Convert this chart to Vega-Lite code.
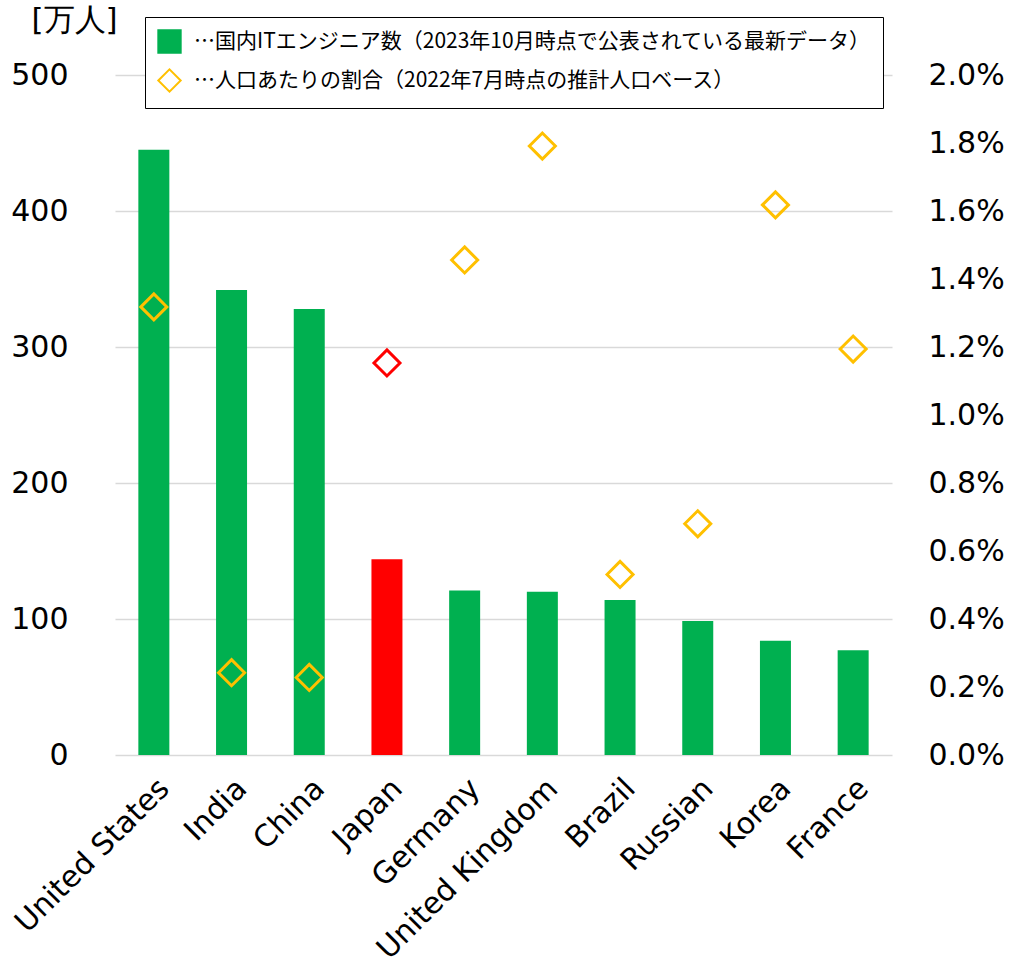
{
  "$schema": "https://vega.github.io/schema/vega-lite/v6.json",
  "width": 777,
  "height": 680,
  "autosize": {"type": "none"},
  "padding": {"left": 115, "top": 75, "right": 123, "bottom": 222},
  "background": "white",
  "config": {
    "view": {"stroke": null},
    "font": "DejaVu Sans",
    "axis": {"labelFont": "DejaVu Sans", "labelColor": "#000000"}
  },
  "data": {
    "values": [
      {"country": "United States", "engineers": 445, "ratio": 0.01318},
      {"country": "India", "engineers": 342, "ratio": 0.00242},
      {"country": "China", "engineers": 328, "ratio": 0.00228},
      {"country": "Japan", "engineers": 144, "ratio": 0.01153},
      {"country": "Germany", "engineers": 121, "ratio": 0.01456},
      {"country": "United Kingdom", "engineers": 120, "ratio": 0.01791},
      {"country": "Brazil", "engineers": 114, "ratio": 0.00531},
      {"country": "Russian", "engineers": 98.5, "ratio": 0.0068},
      {"country": "Korea", "engineers": 84, "ratio": 0.01618},
      {"country": "France", "engineers": 77, "ratio": 0.01194}
    ]
  },
  "encoding": {
    "x": {
      "field": "country",
      "type": "nominal",
      "sort": null,
      "scale": {
        "domain": ["United States", "India", "China", "Japan", "Germany", "United Kingdom", "Brazil", "Russian", "Korea", "France"],
        "paddingInner": 0,
        "paddingOuter": 0
      },
      "axis": {
        "orient": "bottom",
        "title": null,
        "labelAngle": -45,
        "labelFontSize": 30,
        "labelPadding": 18,
        "labelLimit": 0,
        "ticks": false,
        "domain": false,
        "grid": false
      }
    }
  },
  "layer": [
    {
      "transform": [{"filter": "datum.country !== 'Japan'"}],
      "mark": {"type": "bar", "size": 31},
      "encoding": {
        "y": {
          "field": "engineers",
          "type": "quantitative",
          "scale": {"domain": [0, 500]},
          "axis": {
            "orient": "left",
            "values": [0, 100, 200, 300, 400, 500],
            "grid": true,
            "gridColor": "#D9D9D9",
            "gridWidth": 1.5,
            "domain": false,
            "ticks": false,
            "labelFontSize": 30,
            "labelPadding": 47,
            "title": "[万人]",
            "titleFontSize": 31,
            "titleFontWeight": "normal",
            "titleColor": "#000000",
            "titleAngle": 0,
            "titleAlign": "center",
            "titleBaseline": "middle",
            "titleX": -41,
            "titleY": -55
          }
        },
        "color": {
          "datum": "…国内ITエンジニア数（2023年10月時点で公表されている最新データ）",
          "type": "nominal",
          "scale": {
            "domain": ["…国内ITエンジニア数（2023年10月時点で公表されている最新データ）", "…人口あたりの割合（2022年7月時点の推計人口ベース）"],
            "range": ["#00B050", "#FFC000"]
          },
          "legend": {
            "title": null,
            "orient": "none",
            "legendX": 30,
            "legendY": -58,
            "strokeColor": "#000000",
            "fillColor": "#FFFFFF",
            "padding": 12,
            "rowPadding": 8,
            "symbolSize": 500,
            "labelOffset": 12,
            "labelLimit": 0,
            "labelFont": "Noto Sans CJK JP",
            "labelFontSize": 21,
            "labelColor": "#000000",
            "encode": {
              "symbols": {
                "update": {
                  "shape": {"signal": "indexof(datum.value, '国内') >= 0 ? 'square' : 'diamond'"},
                  "fill": {"signal": "indexof(datum.value, '国内') >= 0 ? '#00B050' : '#FFFFFF'"},
                  "fillOpacity": {"signal": "indexof(datum.value, '国内') >= 0 ? 1 : 0"},
                  "stroke": {"signal": "indexof(datum.value, '国内') >= 0 ? '#00B050' : '#FFC000'"},
                  "strokeWidth": {"value": 2}
                }
              }
            }
          }
        }
      }
    },
    {
      "transform": [{"filter": "datum.country === 'Japan'"}],
      "mark": {"type": "bar", "size": 31, "color": "#FF0000"},
      "encoding": {
        "y": {"field": "engineers", "type": "quantitative", "scale": {"domain": [0, 500]}, "axis": null}
      }
    },
    {
      "transform": [{"filter": "datum.country !== 'Japan'"}],
      "mark": {"type": "point", "shape": "diamond", "filled": false, "size": 676, "strokeWidth": 3, "opacity": 1},
      "encoding": {
        "y": {
          "field": "ratio",
          "type": "quantitative",
          "scale": {"domain": [0, 0.02]},
          "axis": {
            "orient": "right",
            "values": [0, 0.002, 0.004, 0.006, 0.008, 0.01, 0.012, 0.014, 0.016, 0.018, 0.02],
            "format": ".1%",
            "grid": false,
            "domain": false,
            "ticks": false,
            "labelFontSize": 30,
            "labelPadding": 36,
            "title": null
          }
        },
        "color": {"datum": "…人口あたりの割合（2022年7月時点の推計人口ベース）", "type": "nominal"}
      }
    },
    {
      "transform": [{"filter": "datum.country === 'Japan'"}],
      "mark": {"type": "point", "shape": "diamond", "filled": false, "size": 676, "strokeWidth": 3, "opacity": 1, "color": "#FF0000"},
      "encoding": {
        "y": {"field": "ratio", "type": "quantitative", "scale": {"domain": [0, 0.02]}, "axis": null}
      }
    }
  ],
  "resolve": {"scale": {"y": "independent"}, "axis": {"y": "independent"}}
}
